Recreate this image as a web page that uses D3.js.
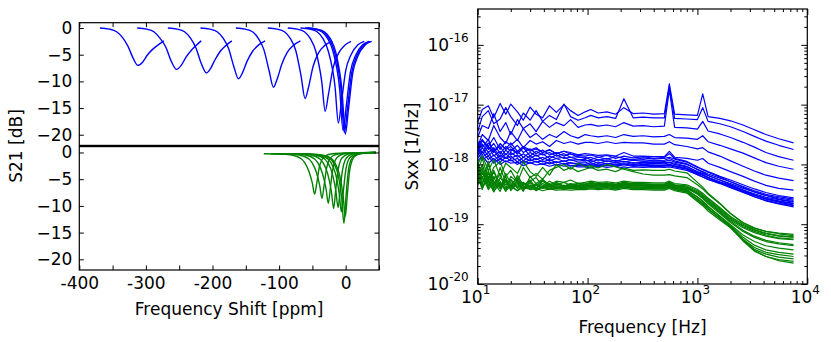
<!DOCTYPE html>
<html>
<head>
<meta charset="utf-8">
<script src="https://cdn.jsdelivr.net/npm/d3@7"></script>
<style>
body { margin: 0; background: #fff; }
svg { display: block; font-family: "DejaVu Sans", sans-serif; }
</style>
</head>
<body>
<svg id="chart" width="831" height="342"></svg>
<script>
"use strict"

// Left panel: S21 resonance dips, each curve is a list of [shift ppm, S21 dB]
const s21Blue = [
    [[-369,0],[-355,-0.2],[-344,-0.7],[-335,-1.8],[-327,-3.4],[-319,-5.7],[-312,-7.0],[-305,-6.4],[-298,-5.1],[-290,-4.0],[-282,-3.2],[-273,-2.4]],
    [[-313,0],[-299,-0.2],[-288,-0.7],[-279,-1.9],[-270,-3.6],[-262,-6.2],[-254,-7.75],[-247,-7.0],[-240,-5.5],[-232,-4.2],[-225,-3.3],[-217,-2.4]],
    [[-267,0],[-253,-0.2],[-242,-0.7],[-233,-1.9],[-225,-3.7],[-217,-6.6],[-209,-8.4],[-203,-7.6],[-196,-5.9],[-188,-4.3],[-180,-3.3],[-171,-2.4]],
    [[-218,0],[-204,-0.2],[-193,-0.7],[-184,-1.9],[-176,-3.8],[-168,-7.2],[-161,-9.5],[-155,-8.4],[-148,-6.2],[-140,-4.4],[-131,-3.2],[-121,-2.4]],
    [[-165,0],[-151,-0.2],[-140,-0.7],[-131,-2.0],[-123,-4.0],[-115,-8.0],[-108.5,-11.1],[-103,-9.6],[-96,-6.8],[-88,-4.6],[-78,-3.2],[-68,-2.4]],
    [[-117,0],[-103,-0.2],[-92,-0.7],[-83,-2.0],[-75,-4.2],[-67,-9.0],[-61,-13.2],[-56,-11.2],[-49,-7.2],[-41,-4.7],[-31,-3.2],[-20,-2.5]],
    [[-87,0],[-73,-0.2],[-62,-0.7],[-53,-2.0],[-45,-4.3],[-36,-10.0],[-30.8,-15.6],[-26,-12.5],[-19,-7.5],[-11,-4.8],[-1,-3.2],[8,-2.5]],
    [[-68,0],[-54,-0.2],[-43,-0.7],[-34,-2.0],[-26,-4.4],[-16,-11.0],[-11,-17.8],[-6.5,-14.0],[0,-8.0],[8,-5.0],[18,-3.2],[28,-2.5]],
    [[-61,0],[-47,-0.2],[-36,-0.7],[-27,-2.0],[-19,-4.4],[-9,-11.5],[-4,-19.2],[0.5,-15.0],[7,-8.3],[15,-5.1],[25,-3.2],[35,-2.5]],
    [[-59,0],[-45,-0.2],[-34,-0.7],[-25,-2.0],[-17,-4.4],[-7,-11.6],[-2,-19.6],[2.5,-15.2],[9,-8.4],[17,-5.1],[27,-3.2],[37,-2.5]],
    [[-57,0],[-43,-0.2],[-32,-0.7],[-23,-2.0],[-15,-4.5],[-5.5,-11.8],[-0.5,-19.9],[4,-15.4],[10.5,-8.5],[18.5,-5.2],[29,-3.2],[39,-2.5]]
]

const s21Green = [
    [[-123,-0.25],[-90,-0.35],[-72,-0.8],[-62,-1.8],[-55,-3.6],[-50,-5.8],[-46.7,-7.8],[-43.5,-5.8],[-40,-3.0],[-36,-1.4],[-30,-0.6],[-20,-0.25],[0,-0.1],[45,0]],
    [[-112,-0.25],[-79,-0.35],[-61,-0.8],[-51,-1.8],[-44,-3.7],[-39,-6.2],[-35.6,-8.6],[-32.5,-6.2],[-29,-3.1],[-25,-1.4],[-19,-0.6],[-9,-0.25],[10,-0.1],[45,0]],
    [[-103,-0.25],[-70,-0.35],[-52,-0.8],[-42,-1.9],[-35,-3.9],[-29.5,-6.8],[-26.1,-9.5],[-23,-6.6],[-19.5,-3.2],[-15.5,-1.4],[-9.5,-0.6],[0,-0.2],[15,-0.08],[45,0]],
    [[-95,-0.25],[-62,-0.35],[-44,-0.8],[-34,-1.9],[-27,-4.0],[-21.5,-7.3],[-18.1,-10.5],[-15,-7.0],[-11.5,-3.3],[-7.5,-1.4],[-1.5,-0.6],[8,-0.2],[20,-0.08],[45,0]],
    [[-88,-0.25],[-55,-0.35],[-37,-0.8],[-27,-1.9],[-20,-4.0],[-14.8,-7.2],[-11.4,-10.3],[-8.3,-6.9],[-4.8,-3.3],[-0.8,-1.4],[5,-0.6],[14,-0.2],[25,-0.08],[45,0]],
    [[-83,-0.25],[-50,-0.35],[-32,-0.8],[-22,-1.9],[-15,-4.1],[-9.8,-7.6],[-6.5,-11.1],[-3.5,-7.3],[0,-3.4],[4,-1.4],[10,-0.6],[19,-0.2],[30,-0.08],[45,0]],
    [[-79,-0.25],[-46,-0.35],[-28,-0.8],[-18,-2.0],[-11,-4.4],[-6,-8.5],[-2.6,-13.3],[0.3,-8.5],[3.6,-3.8],[7.5,-1.5],[13,-0.6],[22,-0.2],[33,-0.08],[45,0]],
    [[-76,-0.25],[-43,-0.35],[-26,-0.8],[-16,-2.0],[-9,-4.3],[-4,-8.0],[-0.5,-12.0],[2.4,-8.0],[5.7,-3.6],[9.6,-1.5],[15,-0.6],[24,-0.2],[35,-0.08],[45,0]]
]

const shiftTicks = [-400, -350, -300, -250, -200, -150, -100, -50, 0, 50]
const dbTicks = [0, -5, -10, -15, -20]

// Right panel: noise spectra, values are log10(Sxx) at each frequency
const freqs = [10, 11, 12.5, 14, 16, 18, 20, 23, 26, 30, 34, 39, 45, 52, 61, 70, 82, 95,
    107, 125, 150, 180, 214, 260, 320, 400, 500, 555, 620,
    800, 1000, 1117, 1250, 1600, 2000, 2600, 3300, 4200, 5500, 7500]

const sxxBlue = [
    [-17.30,-17.08,-17.02,-17.22,-16.98,-17.16,-16.99,-17.12,-17.26,-17.04,-17.16,-17.22,-17.02,-17.13,-17.00,-17.10,-17.18,-17.12,
     -17.08,-17.14,-17.12,-17.16,-17.05,-17.15,-17.14,-17.16,-17.15,-16.65,-17.16,
     -17.17,-17.18,-16.82,-17.20,-17.23,-17.27,-17.34,-17.42,-17.50,-17.57,-17.64],
    [-17.45,-17.20,-17.10,-17.32,-17.24,-17.05,-17.20,-17.35,-17.14,-17.26,-17.10,-17.28,-17.18,-17.25,-16.99,-17.20,-17.26,-17.22,
     -17.18,-17.22,-17.20,-17.23,-16.90,-17.22,-17.21,-17.22,-17.22,-16.70,-17.23,
     -17.24,-17.25,-17.05,-17.28,-17.32,-17.37,-17.45,-17.53,-17.61,-17.68,-17.75],
    [-17.55,-17.35,-17.40,-17.15,-17.45,-17.30,-17.50,-17.25,-17.40,-17.32,-17.45,-17.28,-17.38,-17.30,-17.35,-17.25,-17.38,-17.34,
     -17.33,-17.36,-17.34,-17.37,-17.30,-17.36,-17.35,-17.37,-17.36,-16.75,-17.38,
     -17.39,-17.41,-17.28,-17.44,-17.49,-17.55,-17.63,-17.71,-17.80,-17.87,-17.93],
    [-17.70,-17.50,-17.60,-17.35,-17.55,-17.65,-17.45,-17.60,-17.40,-17.55,-17.48,-17.58,-17.50,-17.55,-17.45,-17.52,-17.56,-17.50,
     -17.52,-17.54,-17.52,-17.55,-17.50,-17.53,-17.52,-17.54,-17.53,-17.50,-17.55,
     -17.56,-17.58,-17.52,-17.62,-17.68,-17.74,-17.81,-17.89,-17.97,-18.03,-18.08],
    [-17.80,-17.60,-17.70,-17.55,-17.75,-17.62,-17.68,-17.58,-17.72,-17.60,-17.66,-17.62,-17.70,-17.60,-17.65,-17.62,-17.66,-17.63,
     -17.63,-17.65,-17.62,-17.65,-17.63,-17.64,-17.64,-17.66,-17.66,-17.62,-17.67,
     -17.70,-17.74,-17.72,-17.79,-17.86,-17.94,-18.03,-18.11,-18.18,-18.23,-18.27],
    [-17.75,-17.60,-17.70,-17.80,-17.65,-17.75,-17.70,-17.82,-17.72,-17.78,-17.74,-17.80,-17.76,-17.82,-17.78,-17.80,-17.84,-17.82,
     -17.83,-17.85,-17.84,-17.86,-17.80,-17.86,-17.86,-17.87,-17.87,-17.78,-17.88,
     -17.90,-17.93,-17.90,-17.98,-18.05,-18.12,-18.20,-18.28,-18.35,-18.40,-18.43],
    [-17.62,-17.72,-17.58,-17.80,-17.66,-17.74,-17.64,-17.78,-17.70,-17.76,-17.72,-17.80,-17.75,-17.82,-17.78,-17.83,-17.85,-17.86,
     -17.84,-17.88,-17.85,-17.90,-17.86,-17.89,-17.87,-17.90,-17.88,-17.82,-17.90,
     -17.95,-18.04,-18.09,-18.13,-18.21,-18.29,-18.38,-18.46,-18.52,-18.58,-18.62],
    [-17.70,-17.58,-17.75,-17.65,-17.82,-17.70,-17.78,-17.68,-17.80,-17.74,-17.82,-17.76,-17.84,-17.80,-17.86,-17.82,-17.88,-17.88,
     -17.92,-17.88,-17.91,-17.87,-17.90,-17.92,-17.89,-17.91,-17.90,-17.88,-17.91,
     -17.96,-18.05,-18.08,-18.12,-18.20,-18.26,-18.34,-18.41,-18.47,-18.52,-18.56],
    [-17.68,-17.80,-17.64,-17.76,-17.70,-17.84,-17.74,-17.82,-17.72,-17.86,-17.78,-17.84,-17.80,-17.86,-17.82,-17.88,-17.87,-17.90,
     -17.88,-17.93,-17.90,-17.95,-17.91,-17.93,-17.92,-17.94,-17.93,-17.90,-17.94,
     -17.99,-18.09,-18.13,-18.18,-18.26,-18.34,-18.43,-18.51,-18.58,-18.63,-18.68],
    [-17.78,-17.66,-17.80,-17.72,-17.88,-17.76,-17.84,-17.78,-17.88,-17.80,-17.86,-17.82,-17.90,-17.84,-17.90,-17.88,-17.92,-17.92,
     -17.96,-17.92,-17.95,-17.93,-17.96,-17.93,-17.95,-17.94,-17.95,-17.93,-17.96,
     -18.00,-18.08,-18.12,-18.16,-18.23,-18.29,-18.37,-18.44,-18.50,-18.54,-18.58],
    [-17.72,-17.84,-17.70,-17.86,-17.78,-17.90,-17.80,-17.88,-17.82,-17.90,-17.84,-17.92,-17.86,-17.90,-17.88,-17.93,-17.92,-17.94,
     -17.93,-17.98,-17.94,-17.97,-17.95,-17.98,-17.96,-17.97,-17.97,-17.96,-17.98,
     -18.03,-18.13,-18.17,-18.22,-18.30,-18.37,-18.46,-18.54,-18.61,-18.66,-18.71],
    [-17.84,-17.72,-17.86,-17.76,-17.92,-17.82,-17.90,-17.84,-17.94,-17.86,-17.92,-17.88,-17.94,-17.90,-17.95,-17.92,-17.96,-17.96,
     -18.00,-17.96,-17.99,-17.97,-18.00,-17.97,-17.99,-17.98,-17.99,-17.97,-18.00,
     -18.04,-18.12,-18.15,-18.19,-18.26,-18.32,-18.40,-18.46,-18.52,-18.56,-18.60],
    [-17.76,-17.88,-17.80,-17.94,-17.84,-17.90,-17.86,-17.96,-17.88,-17.94,-17.90,-17.96,-17.92,-17.97,-17.94,-17.98,-17.98,-18.00,
     -17.97,-18.02,-17.98,-18.01,-17.99,-18.02,-18.00,-18.01,-18.01,-18.00,-18.02,
     -18.06,-18.15,-18.18,-18.22,-18.30,-18.36,-18.44,-18.51,-18.57,-18.62,-18.66],
    [-17.90,-17.78,-17.92,-17.84,-17.96,-17.88,-17.94,-17.90,-17.98,-17.92,-17.96,-17.94,-17.99,-17.95,-18.00,-17.97,-18.00,-18.01,
     -18.03,-17.99,-18.02,-18.00,-18.03,-18.00,-18.02,-18.01,-18.02,-18.01,-18.03,
     -18.07,-18.15,-18.18,-18.22,-18.29,-18.35,-18.43,-18.49,-18.55,-18.59,-18.63],
    [-17.82,-17.92,-17.86,-17.98,-17.90,-17.96,-17.92,-18.00,-17.94,-17.98,-17.95,-18.00,-17.96,-18.01,-17.98,-18.02,-18.01,-18.02,
     -18.00,-18.04,-18.01,-18.03,-18.00,-18.03,-18.02,-18.04,-18.03,-18.02,-18.04,
     -18.08,-18.17,-18.21,-18.25,-18.32,-18.39,-18.47,-18.54,-18.60,-18.65,-18.69],
    [-17.94,-17.86,-17.98,-17.90,-18.00,-17.94,-17.98,-17.96,-18.02,-17.97,-18.01,-17.99,-18.03,-18.00,-18.03,-18.02,-18.04,-18.04,
     -18.06,-18.02,-18.05,-18.03,-18.06,-18.04,-18.05,-18.04,-18.05,-18.04,-18.06,
     -18.10,-18.17,-18.21,-18.25,-18.31,-18.38,-18.45,-18.52,-18.57,-18.61,-18.65]
]

const sxxGreen = [
    [-18.00,-17.85,-18.10,-17.92,-18.20,-17.98,-18.05,-18.15,-17.95,-18.12,-18.20,-18.05,-18.18,-18.00,-18.10,-18.05,-18.12,-18.08,
     -18.05,-18.10,-18.08,-18.12,-18.06,-18.10,-18.09,-18.10,-18.10,-18.08,-18.11,
     -18.14,-18.30,-18.38,-18.48,-18.65,-18.82,-18.98,-19.07,-19.12,-19.15,-19.17],
    [-18.10,-17.90,-18.25,-18.05,-17.95,-18.20,-18.10,-18.30,-18.05,-18.22,-18.15,-18.25,-18.10,-18.05,-18.00,-18.08,-17.98,-18.04,
     -18.02,-18.06,-18.00,-18.04,-18.08,-18.12,-18.16,-18.18,-18.18,-18.17,-18.19,
     -18.22,-18.34,-18.41,-18.50,-18.66,-18.82,-18.97,-19.06,-19.12,-19.16,-19.19],
    [-18.05,-18.25,-17.95,-18.35,-18.15,-18.40,-18.20,-18.30,-18.45,-18.20,-18.32,-18.25,-18.35,-18.28,-18.30,-18.26,-18.32,-18.30,
     -18.28,-18.30,-18.29,-18.31,-18.28,-18.30,-18.30,-18.31,-18.31,-18.28,-18.32,
     -18.34,-18.42,-18.48,-18.56,-18.72,-18.87,-19.00,-19.09,-19.15,-19.19,-19.21],
    [-18.20,-18.00,-18.30,-18.10,-18.35,-18.25,-18.40,-18.18,-18.35,-18.28,-18.22,-18.36,-18.28,-18.34,-18.30,-18.35,-18.31,-18.33,
     -18.30,-18.32,-18.31,-18.33,-18.30,-18.32,-18.32,-18.33,-18.33,-18.30,-18.34,
     -18.36,-18.44,-18.50,-18.58,-18.74,-18.89,-19.02,-19.10,-19.16,-19.20,-19.22],
    [-17.95,-18.30,-18.15,-18.42,-18.05,-18.30,-18.35,-18.22,-18.38,-18.30,-18.40,-18.28,-18.36,-18.32,-18.38,-18.33,-18.36,-18.34,
     -18.32,-18.34,-18.33,-18.35,-18.32,-18.34,-18.34,-18.35,-18.35,-18.31,-18.36,
     -18.38,-18.46,-18.52,-18.60,-18.76,-18.91,-19.04,-19.12,-19.18,-19.23,-19.25],
    [-18.30,-18.10,-18.40,-18.20,-18.28,-18.45,-18.25,-18.38,-18.30,-18.42,-18.34,-18.38,-18.32,-18.40,-18.35,-18.38,-18.36,-18.37,
     -18.35,-18.36,-18.35,-18.37,-18.34,-18.36,-18.36,-18.37,-18.37,-18.33,-18.38,
     -18.40,-18.48,-18.54,-18.62,-18.78,-18.93,-19.06,-19.14,-19.20,-19.24,-19.26],
    [-18.10,-18.35,-18.00,-18.28,-18.40,-18.15,-18.32,-18.25,-18.42,-18.30,-18.36,-18.26,-18.34,-18.30,-18.36,-18.32,-18.34,-18.33,
     -18.32,-18.33,-18.32,-18.34,-18.31,-18.33,-18.33,-18.34,-18.34,-18.30,-18.35,
     -18.38,-18.48,-18.55,-18.64,-18.80,-18.95,-19.10,-19.20,-19.27,-19.31,-19.34],
    [-18.25,-18.05,-18.35,-18.12,-18.38,-18.20,-18.44,-18.28,-18.35,-18.26,-18.40,-18.32,-18.38,-18.33,-18.36,-18.34,-18.37,-18.35,
     -18.34,-18.35,-18.34,-18.36,-18.33,-18.35,-18.35,-18.36,-18.36,-18.32,-18.37,
     -18.40,-18.50,-18.57,-18.66,-18.82,-18.97,-19.12,-19.22,-19.29,-19.33,-19.36],
    [-18.00,-18.40,-18.20,-18.30,-18.45,-18.25,-18.38,-18.32,-18.40,-18.34,-18.42,-18.36,-18.40,-18.35,-18.39,-18.37,-18.39,-18.38,
     -18.37,-18.38,-18.37,-18.39,-18.36,-18.38,-18.38,-18.39,-18.39,-18.35,-18.40,
     -18.43,-18.54,-18.61,-18.70,-18.86,-19.01,-19.18,-19.29,-19.36,-19.40,-19.43],
    [-18.35,-18.15,-18.28,-18.46,-18.22,-18.34,-18.26,-18.40,-18.30,-18.38,-18.32,-18.40,-18.34,-18.38,-18.35,-18.37,-18.36,-18.36,
     -18.35,-18.36,-18.35,-18.37,-18.34,-18.36,-18.36,-18.37,-18.37,-18.34,-18.38,
     -18.42,-18.55,-18.62,-18.71,-18.87,-19.02,-19.22,-19.35,-19.43,-19.47,-19.50],
    [-18.20,-18.42,-18.10,-18.38,-18.30,-18.44,-18.36,-18.28,-18.42,-18.36,-18.44,-18.38,-18.42,-18.38,-18.41,-18.39,-18.41,-18.40,
     -18.39,-18.40,-18.39,-18.41,-18.38,-18.40,-18.40,-18.41,-18.41,-18.37,-18.42,
     -18.46,-18.58,-18.65,-18.74,-18.90,-19.05,-19.25,-19.39,-19.47,-19.51,-19.54],
    [-18.30,-18.12,-18.36,-18.22,-18.40,-18.28,-18.36,-18.44,-18.32,-18.40,-18.34,-18.40,-18.36,-18.41,-18.37,-18.39,-18.38,-18.38,
     -18.37,-18.38,-18.37,-18.39,-18.36,-18.38,-18.38,-18.39,-18.39,-18.36,-18.40,
     -18.44,-18.58,-18.65,-18.74,-18.90,-19.04,-19.26,-19.42,-19.50,-19.55,-19.58],
    [-18.15,-18.38,-18.25,-18.45,-18.32,-18.40,-18.36,-18.44,-18.38,-18.42,-18.40,-18.44,-18.41,-18.43,-18.42,-18.43,-18.42,-18.42,
     -18.41,-18.42,-18.41,-18.43,-18.40,-18.42,-18.42,-18.43,-18.43,-18.40,-18.44,
     -18.48,-18.62,-18.69,-18.78,-18.93,-19.06,-19.28,-19.45,-19.54,-19.59,-19.62],
    [-18.28,-18.20,-18.42,-18.30,-18.38,-18.26,-18.42,-18.34,-18.40,-18.36,-18.42,-18.38,-18.41,-18.39,-18.40,-18.40,-18.41,-18.40,
     -18.39,-18.40,-18.39,-18.41,-18.38,-18.40,-18.40,-18.41,-18.41,-18.38,-18.42,
     -18.46,-18.60,-18.67,-18.75,-18.90,-19.03,-19.26,-19.44,-19.54,-19.61,-19.65]
]

const freqDecades = [1, 2, 3, 4]
const sxxDecades = [-20, -19, -18, -17, -16]

const FONT = 17
const BLUE = "#0000ff"
const GREEN = "#008000"

const svg = d3.select("#chart")

// ---------- left panel ----------
const L = {left: 79.3, right: 379, top: 22.7, mid1: 145.4, mid2: 146.6, bottom: 270}

const xShift = d3.scaleLinear().domain([-400, 50]).range([L.left, L.right])
const yTop = d3.scaleLinear().domain([-22, 1]).range([L.mid1, L.top])
const yBot = d3.scaleLinear().domain([-22, 1.1]).range([L.bottom, L.mid2])

function clip(id, x0, y0, x1, y1){
    svg.append("clipPath").attr("id", id)
        .append("rect").attr("x", x0).attr("y", y0).attr("width", x1 - x0).attr("height", y1 - y0)
}
clip("clipTop", L.left, L.top, L.right, L.mid1)
clip("clipBot", L.left, L.mid2, L.right, L.bottom)

const lineTop = d3.line().x(d => xShift(d[0])).y(d => yTop(d[1])).curve(d3.curveMonotoneX)
const lineBot = d3.line().x(d => xShift(d[0])).y(d => yBot(d[1])).curve(d3.curveMonotoneX)

svg.append("g").attr("clip-path", "url(#clipTop)")
    .selectAll("path").data(s21Blue).join("path")
    .attr("d", lineTop).attr("fill", "none").attr("stroke", BLUE).attr("stroke-width", 1.4)

svg.append("g").attr("clip-path", "url(#clipBot)")
    .selectAll("path").data(s21Green).join("path")
    .attr("d", lineBot).attr("fill", "none").attr("stroke", GREEN).attr("stroke-width", 1.4)

// strip the default axis styling, keep the tick lines
function styleAxis(g){
    g.select(".domain").remove()
    g.attr("font-family", null).attr("font-size", FONT)
    g.selectAll("line").attr("stroke", "#000").attr("stroke-width", 1)
    g.selectAll("text").attr("fill", "#000")
}
const dbFormat = d => d === 0 ? "0" : "\u2212" + Math.abs(d)

// y ticks, both sides, both sub panels
;[yTop, yBot].forEach(y => {
    svg.append("g").attr("transform", `translate(${L.left},0)`)
        .call(d3.axisLeft(y).tickValues(dbTicks).tickSizeInner(-4.5).tickSizeOuter(0).tickPadding(7).tickFormat(dbFormat))
        .call(styleAxis)
    svg.append("g").attr("transform", `translate(${L.right},0)`)
        .call(d3.axisRight(y).tickValues(dbTicks).tickSizeInner(-4.5).tickSizeOuter(0).tickFormat(""))
        .call(styleAxis)
})

svg.append("g").attr("transform", `translate(0,${L.top})`)
    .call(d3.axisTop(xShift).tickValues(shiftTicks).tickSizeInner(-4.5).tickSizeOuter(0).tickFormat(""))
    .call(styleAxis)
svg.append("g").attr("transform", `translate(0,${L.bottom})`)
    .call(d3.axisBottom(xShift).tickValues(shiftTicks).tickSizeInner(-4.5).tickSizeOuter(0).tickPadding(7)
        .tickFormat(d => d % 100 === 0 ? String(d) : ""))
    .call(styleAxis)

svg.append("rect").attr("x", L.left).attr("y", L.top).attr("width", L.right - L.left).attr("height", L.mid1 - L.top)
    .attr("fill", "none").attr("stroke", "#000").attr("stroke-width", 1.2)
svg.append("rect").attr("x", L.left).attr("y", L.mid2).attr("width", L.right - L.left).attr("height", L.bottom - L.mid2)
    .attr("fill", "none").attr("stroke", "#000").attr("stroke-width", 1.2)

svg.append("text").attr("x", (L.left + L.right) / 2).attr("y", 315)
    .attr("text-anchor", "middle").attr("font-size", FONT).text("Frequency Shift [ppm]")
svg.append("text").attr("transform", "translate(22,146) rotate(-90)")
    .attr("text-anchor", "middle").attr("font-size", FONT).text("S21 [dB]")

// ---------- right panel ----------
const R = {left: 477.7, right: 807.3, top: 9, bottom: 284}
const xFreq = d3.scaleLog().domain([10, 1e4]).range([R.left, R.right])
const ySxx = d3.scaleLog().domain([1e-20, Math.pow(10, -15.4)]).range([R.bottom, R.top])

clip("clipR", R.left, R.top, R.right, R.bottom)

const lineSxx = d3.line().x((v, i) => xFreq(freqs[i])).y(v => ySxx(Math.pow(10, v)))

const gR = svg.append("g").attr("clip-path", "url(#clipR)")
gR.selectAll("path.blue").data(sxxBlue).join("path").attr("class", "blue")
    .attr("d", lineSxx).attr("fill", "none").attr("stroke", BLUE).attr("stroke-width", 1.2).attr("stroke-linejoin", "round")
gR.selectAll("path.green").data(sxxGreen).join("path").attr("class", "green")
    .attr("d", lineSxx).attr("fill", "none").attr("stroke", GREEN).attr("stroke-width", 1.2).attr("stroke-linejoin", "round")

// major and minor log ticks
const fMajor = freqDecades.map(p => Math.pow(10, p))
const fMinor = []
for(let p = 1; p < 4; ++p)
    for(let m = 2; m < 10; ++m)
        fMinor.push(m * Math.pow(10, p))
const sMajor = sxxDecades.map(p => Math.pow(10, p))
const sMinor = []
for(let p = -20; p <= -16; ++p)
    for(let m = 2; m < 10; ++m)
        if(m * Math.pow(10, p) < ySxx.domain()[1])
            sMinor.push(m * Math.pow(10, p))

;[[fMajor, 6], [fMinor, 3]].forEach(([vals, len]) => {
    svg.append("g").attr("transform", `translate(0,${R.bottom})`)
        .call(d3.axisBottom(xFreq).tickValues(vals).tickSizeInner(-len).tickSizeOuter(0).tickFormat(""))
        .call(styleAxis)
    svg.append("g").attr("transform", `translate(0,${R.top})`)
        .call(d3.axisTop(xFreq).tickValues(vals).tickSizeInner(-len).tickSizeOuter(0).tickFormat(""))
        .call(styleAxis)
})
;[[sMajor, 6], [sMinor, 3]].forEach(([vals, len]) => {
    svg.append("g").attr("transform", `translate(${R.left},0)`)
        .call(d3.axisLeft(ySxx).tickValues(vals).tickSizeInner(-len).tickSizeOuter(0).tickFormat(""))
        .call(styleAxis)
    svg.append("g").attr("transform", `translate(${R.right},0)`)
        .call(d3.axisRight(ySxx).tickValues(vals).tickSizeInner(-len).tickSizeOuter(0).tickFormat(""))
        .call(styleAxis)
})

svg.append("rect").attr("x", R.left).attr("y", R.top).attr("width", R.right - R.left).attr("height", R.bottom - R.top)
    .attr("fill", "none").attr("stroke", "#000").attr("stroke-width", 1.2)

// power-of-ten labels
function powLabel(sel, p){
    sel.append("tspan").text("10")
    sel.append("tspan").attr("dy", -9).attr("font-size", 12).text(String(p))
}
freqDecades.forEach(p => {
    svg.append("text").attr("x", xFreq(Math.pow(10, p)) - 2).attr("y", 303.3)
        .attr("text-anchor", "middle").attr("font-size", FONT).call(powLabel, p)
})
sxxDecades.forEach(p => {
    svg.append("text").attr("x", R.left - 9).attr("y", ySxx(Math.pow(10, p)) + 6.3)
        .attr("text-anchor", "end").attr("font-size", FONT).call(powLabel, p)
})

svg.append("text").attr("x", (R.left + R.right) / 2).attr("y", 333)
    .attr("text-anchor", "middle").attr("font-size", FONT).text("Frequency [Hz]")
svg.append("text").attr("transform", `translate(418,${(R.top + R.bottom) / 2}) rotate(-90)`)
    .attr("text-anchor", "middle").attr("font-size", FONT).text("Sxx [1/Hz]")
</script>
</body>
</html>
